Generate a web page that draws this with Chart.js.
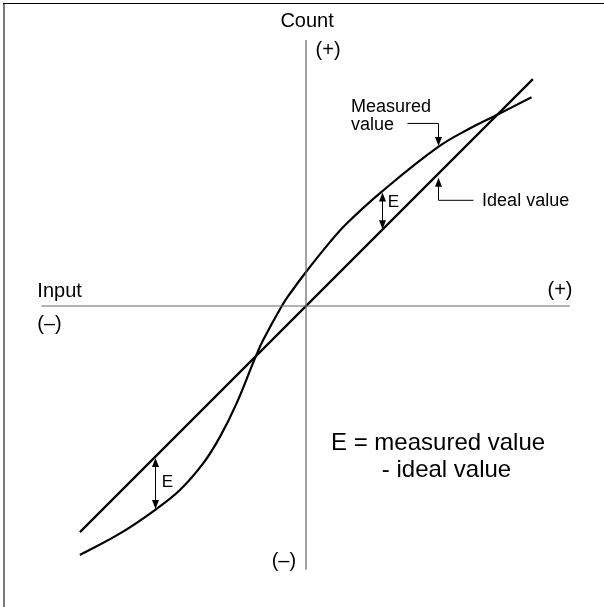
<!DOCTYPE html>
<html>
<head>
<meta charset="utf-8">
<script src="https://cdn.jsdelivr.net/npm/chart.js@4/dist/chart.umd.min.js"></script>
<style>
  html, body { margin: 0; padding: 0; background: #fff; }
  canvas { display: block; }
</style>
</head>
<body>
<canvas id="c" width="604" height="607"></canvas>
<script>
// ---- data (arbitrary units, axes span -10..10) ----
const inputValues    = [-8.5, -6.99, -5.68, -4.74, -3.86, -3.23, -2.61, -1.92, -1.61, -0.91, -0.60, 0, 0.90, 1.53, 2.85, 4.97, 6.17, 7.17, 8.48];
const measuredCounts = [-9.36, -8.55, -7.67, -6.92, -5.91, -4.91, -3.66, -1.97, -1.28, 0, 0.47, 1.28, 2.40, 3.10, 4.30, 5.98, 6.68, 7.18, 7.85];
const idealInputs    = [-8.5, 8.53];
const idealCounts    = [-8.5, 8.53];
const xAxisSpan      = [-9.95, 9.92];
const yAxisSpan      = [-9.92, 10];
const errorInputs    = [2.85, -5.68];   // where the E arrows are drawn
const pointerInput   = 4.97;            // where the "Measured/Ideal value" pointers touch

const FONT = 'Arial, "Liberation Sans", sans-serif';

const texts = [
  { t: 'Count', x: 0.04, y: 10.7, size: 20, align: 'center', base: 'middle' },
  { t: '(+)', x: 0.83, y: 9.62, size: 20, align: 'center', base: 'middle' },
  { t: 'Input', x: -10.1, y: 0.56, size: 20, align: 'left', base: 'middle' },
  { t: '(\u2013)', x: -10.1, y: -0.68, size: 20, align: 'left', base: 'middle' },
  { t: '(+)', x: 9.55, y: 0.6, size: 20, align: 'center', base: 'middle' },
  { t: '(\u2013)', x: -0.83, y: -9.62, size: 20, align: 'center', base: 'middle' },
  { t: 'Measured', x: 1.69, y: 7.3, size: 18, align: 'left', base: 'alphabetic' },
  { t: 'value', x: 1.69, y: 6.62, size: 18, align: 'left', base: 'alphabetic' },
  { t: 'Ideal value', x: 6.62, y: 3.76, size: 18, align: 'left', base: 'alphabetic' },
  { t: 'E', x: 3.07, y: 3.73, size: 17, align: 'left', base: 'alphabetic' },
  { t: 'E', x: -5.42, y: -6.8, size: 17, align: 'left', base: 'alphabetic' },
  { t: 'E = measured value', x: 0.94, y: -5.41, size: 24, align: 'left', base: 'alphabetic' },
  { t: '- ideal value', x: 2.85, y: -6.43, size: 24, align: 'left', base: 'alphabetic' }
];

function measuredAt(x) {
  const i = inputValues.indexOf(x);
  return measuredCounts[i];
}

function arrowHead(ctx, x, y, dir) {
  // dir: 1 = pointing down, -1 = pointing up
  ctx.beginPath();
  ctx.moveTo(x, y);
  ctx.lineTo(x - 3.5, y - dir * 9);
  ctx.lineTo(x + 3.5, y - dir * 9);
  ctx.closePath();
  ctx.fill();
}

const overlay = {
  id: 'overlay',
  beforeDraw(chart) {
    const ctx = chart.ctx;
    ctx.save();
    ctx.fillStyle = '#fff';
    ctx.fillRect(0, 0, chart.width, chart.height);
    ctx.fillStyle = '#7a7a7a';
    ctx.fillRect(3, 3, 2, chart.height);
    ctx.fillStyle = '#000';
    ctx.fillRect(3, 3, chart.width, 1);
    ctx.restore();
  },
  afterDatasetsDraw(chart) {
    const ctx = chart.ctx;
    const xs = chart.scales.x, ys = chart.scales.y;
    ctx.save();
    ctx.fillStyle = '#000';
    texts.forEach(o => {
      ctx.font = o.size + 'px ' + FONT;
      ctx.textAlign = o.align;
      ctx.textBaseline = o.base;
      ctx.fillText(o.t, xs.getPixelForValue(o.x), ys.getPixelForValue(o.y));
    });
    // E double arrows between measured and ideal
    ctx.strokeStyle = '#000';
    ctx.lineWidth = 1;
    errorInputs.forEach(xv => {
      const px = Math.round(xs.getPixelForValue(xv)) + 0.5;
      const ym = ys.getPixelForValue(measuredAt(xv));
      const yi = ys.getPixelForValue(xv);
      const top = Math.min(ym, yi) + 1, bot = Math.max(ym, yi) - 1;
      ctx.beginPath();
      ctx.moveTo(px, top + 4);
      ctx.lineTo(px, bot - 4);
      ctx.stroke();
      arrowHead(ctx, px, top, -1);
      arrowHead(ctx, px, bot, 1);
    });
    // pointer to measured curve
    const pp = Math.round(xs.getPixelForValue(pointerInput)) + 0.5;
    const mTip = ys.getPixelForValue(measuredAt(pointerInput)) - 1;
    ctx.beginPath();
    ctx.moveTo(pp - 31, mTip - 22.5);
    ctx.lineTo(pp, mTip - 22.5);
    ctx.lineTo(pp, mTip - 6);
    ctx.stroke();
    arrowHead(ctx, pp, mTip, 1);
    // pointer to ideal line
    const iTip = ys.getPixelForValue(pointerInput) + 4;
    ctx.beginPath();
    ctx.moveTo(pp + 35, iTip + 22.5);
    ctx.lineTo(pp, iTip + 22.5);
    ctx.lineTo(pp, iTip + 6);
    ctx.stroke();
    arrowHead(ctx, pp, iTip, -1);
    ctx.restore();
  }
};

const measuredPts = inputValues.map((x, i) => ({ x, y: measuredCounts[i] }));
const idealPts = idealInputs.map((x, i) => ({ x, y: idealCounts[i] }));

new Chart(document.getElementById('c'), {
  type: 'scatter',
  data: {
    datasets: [
      { label: 'x axis', data: xAxisSpan.map(x => ({ x, y: 0 })), showLine: true, borderColor: '#666', borderWidth: 1.2, pointRadius: 0 },
      { label: 'y axis', data: yAxisSpan.map(y => ({ x: 0, y })), showLine: true, borderColor: '#666', borderWidth: 1.2, pointRadius: 0 },
      { label: 'Ideal value', data: idealPts, showLine: true, borderColor: '#000', borderWidth: 2.2, pointRadius: 0 },
      { label: 'Measured value', data: measuredPts, showLine: true, borderColor: '#000', borderWidth: 2.2, pointRadius: 0, tension: 0.4 }
    ]
  },
  options: {
    responsive: false,
    animation: false,
    devicePixelRatio: 1,
    layout: { padding: { left: 40, right: 32, top: 40, bottom: 35 } },
    plugins: { legend: { display: false }, tooltip: { enabled: false } },
    scales: {
      x: { type: 'linear', min: -10, max: 10, display: false },
      y: { type: 'linear', min: -10, max: 10, display: false }
    },
    elements: { line: { borderCapStyle: 'butt' } }
  },
  plugins: [overlay]
});
</script>
</body>
</html>
